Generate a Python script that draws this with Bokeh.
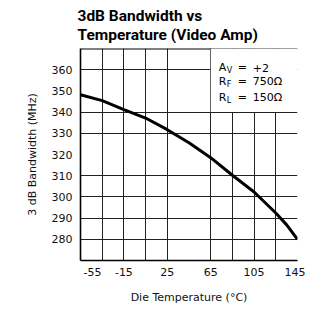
from bokeh.plotting import figure
from bokeh.models import Range1d, FixedTicker, Title, Label, BoxAnnotation, Span
from bokeh.embed import file_html
from bokeh.resources import INLINE

# ---- data ----
temp_c = [-55, -35, -15, 5, 25, 45, 65, 85, 105, 125, 135, 145]
bw_mhz = [348.2, 345.4, 341.2, 337.2, 331.7, 325.5, 318.5, 310.2, 302.3, 292.4, 286.8, 280.0]

x_ticks = [-55, -15, 25, 65, 105, 145]
x_tick_labels = ["\u2003\u2003\u2009-55", "-15", "25", "65", "105", "145"]
y_ticks = [280, 290, 300, 310, 320, 330, 340, 350, 360]
x_grid = [-35, -15, 5, 25, 65, 85, 105, 125]
y_grid = [280, 290, 300, 310, 330, 340, 360]

title_lines = ["3dB Bandwidth vs", "Temperature (Video Amp)"]
x_label = "Die Temperature (\u00b0C)"
y_label = "3 dB Bandwidth (MHz)"

note_mains = ["A", "R", "R"]
note_subs = ["V", "F", "L"]
note_vals = ["+2", "750\u03a9", "150\u03a9"]
note_box = dict(left=65, right=145, bottom=340, top=370)

FONT = "DejaVu Sans"
TFONT = "Roboto"

p = figure(width=305, height=306,
           x_range=Range1d(-55, 145), y_range=Range1d(270, 370),
           title=None, toolbar_location=None, output_backend="svg",
           min_border_left=80, min_border_right=8,
           min_border_top=47, min_border_bottom=43)

p.outline_line_color = None
p.background_fill_color = "white"
p.border_fill_color = "white"

# two-line title
t = Title(text="\n".join(title_lines), text_font=TFONT, text_font_size="15.5px",
          text_font_style="bold", text_color="black", align="left",
          text_line_height=1.1, standoff=8, offset=-3)
p.add_layout(t, "above")

# axes
for ax in (p.xaxis[0], p.yaxis[0]):
    ax.axis_line_color = "black"
    ax.axis_line_width = 1.6
    ax.major_tick_in = 0
    ax.major_tick_out = 0
    ax.minor_tick_in = 0
    ax.minor_tick_out = 0
    ax.major_label_text_font = FONT
    ax.major_label_text_font_size = "11px"
    ax.major_label_text_color = "#111111"
    ax.axis_label_text_font = FONT
    ax.axis_label_text_font_size = "11px"
    ax.axis_label_text_font_style = "normal"
    ax.axis_label_text_color = "#111111"

p.xaxis.ticker = FixedTicker(ticks=x_ticks)
p.xaxis.major_label_overrides = dict(zip(x_ticks, x_tick_labels))
p.yaxis.ticker = FixedTicker(ticks=y_ticks)
p.xaxis.axis_label = x_label
p.yaxis.axis_label = y_label
p.xaxis.major_label_standoff = 5
p.xaxis.axis_label_standoff = 9
p.yaxis.major_label_standoff = 8
p.yaxis.axis_label_standoff = 10

# grid
p.xgrid.ticker = FixedTicker(ticks=x_grid)
p.ygrid.ticker = FixedTicker(ticks=y_grid)
for g in (p.xgrid[0], p.ygrid[0]):
    g.grid_line_color = "#222222"
    g.grid_line_width = 1
    g.grid_line_alpha = 1

# top border
p.add_layout(Span(location=370, dimension="width", line_color="black", line_width=2))

# note box
p.add_layout(BoxAnnotation(fill_color="white", fill_alpha=1, line_color=None, **note_box))
p.segment(x0=[note_box["left"]], y0=[note_box["bottom"]], x1=[note_box["left"]], y1=[note_box["top"]],
          line_color="#222222", line_width=1.2)

# curve
p.line(temp_c, bw_mhz, line_color="black", line_width=3)

# note text
note_x = 72.5
note_y = [360.9, 354.2, 347.0]
for m, s, v, yy in zip(note_mains, note_subs, note_vals, note_y):
    p.add_layout(Label(x=note_x, y=yy, text=m, text_font=FONT, text_font_size="11px",
                       text_baseline="alphabetic", text_color="black"))
    p.add_layout(Label(x=note_x, y=yy, x_offset=8, y_offset=-3, text=s, text_font=FONT,
                       text_font_size="8px", text_baseline="alphabetic", text_color="black"))
    p.add_layout(Label(x=note_x, y=yy, x_offset=19, text="=", text_font=FONT, text_font_size="11px",
                       text_baseline="alphabetic", text_color="black"))
    p.add_layout(Label(x=note_x, y=yy, x_offset=34, text=v, text_font=FONT, text_font_size="11px",
                       text_baseline="alphabetic", text_color="black"))

open("out.html", "w").write(file_html(p, INLINE))
